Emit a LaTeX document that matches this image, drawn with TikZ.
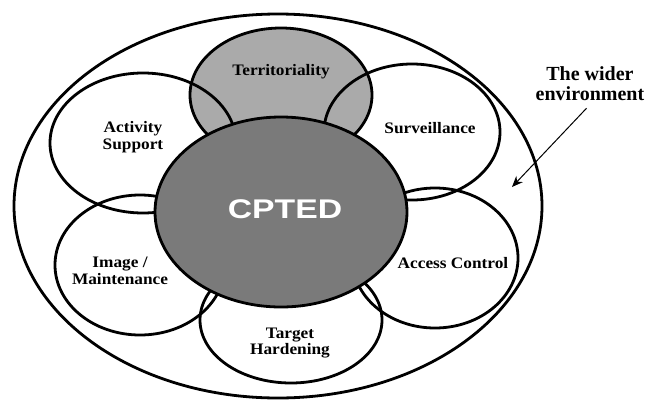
\documentclass[tikz,border=0pt]{standalone}
\usepackage{fontspec}
\setmainfont{Liberation Serif}
\newfontfamily\cptedfont{Liberation Sans}
\usetikzlibrary{shapes.geometric,arrows.meta,positioning}

\definecolor{terrgray}{RGB}{170,170,170}
\definecolor{coregray}{RGB}{122,122,122}

\tikzset{
  petal/.style={ellipse,draw,line width=2.8pt,inner sep=0pt},
  lbl/.style={font=\fontsize{16}{16.5}\selectfont\bfseries,align=center,xscale=1.08},
}

\begin{document}
\begin{tikzpicture}[x=1pt,y=-1pt]
\useasboundingbox (0,0) rectangle (649,400);
% wider environment and the six petals
\node[petal,minimum width=528pt,minimum height=384pt](wide) at (278,206){};
\node[petal,fill=terrgray,minimum width=182pt,minimum height=134pt](terr) at (281,95){};
\node[petal,minimum width=186pt,minimum height=140pt](act) at (143,143){};
\node[petal,minimum width=176pt,minimum height=136pt](surv) at (412,132){};
\node[petal,minimum width=170pt,minimum height=140pt](img) at (140,265){};
\node[petal,minimum width=166pt,minimum height=140pt](acc) at (435,258){};
\node[petal,minimum width=182pt,minimum height=126pt](targ) at (291,320){};
% core
\node[petal,fill=coregray,minimum width=252pt,minimum height=190pt](cpted) at (281,212){};
\node[text=white,font=\cptedfont\fontsize{27}{27}\selectfont\bfseries,xscale=1.25](cptedtxt) at (285,209){CPTED};
% labels
\node[lbl](terrtxt) at (281,72){Territoriality};
\node[lbl](acttxt) at (133,137){Activity\\Support};
\node[lbl](survtxt) at (430,128){Surveillance};
\node[lbl](imgtxt) at (120,271){Image /\\Maintenance};
\node[lbl](acctxt) at (453,263){Access Control};
\node[lbl](targtxt) at (290,343){Target\\Hardening};
\node[font=\fontsize{20}{20}\selectfont\bfseries,align=center](wider) at (590,84){The wider\\environment};
\coordinate (tip) at (512,187);
\draw[line width=1pt,-{Stealth[length=11pt,width=9pt]},shorten <=5pt](wider.south) -- (tip);
\end{tikzpicture}
\end{document}
